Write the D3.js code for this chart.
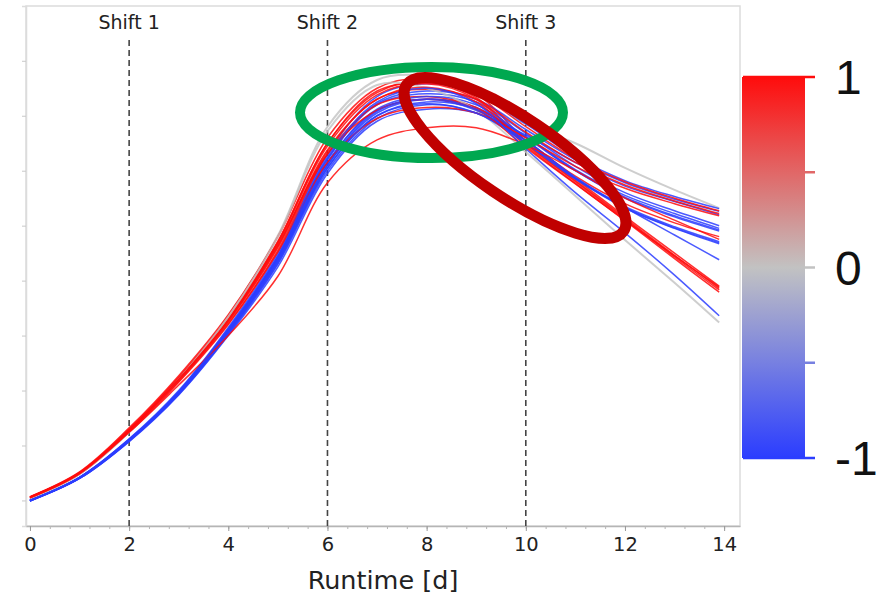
<!DOCTYPE html>
<html>
<head>
<meta charset="utf-8">
<script src="https://cdn.jsdelivr.net/npm/d3@7"></script>
<style>
  html, body { margin: 0; padding: 0; background: #fff; }
  svg { display: block; }
</style>
</head>
<body>
<svg id="chart" width="881" height="598"></svg>
<script>
// ---------- data ----------
const runtime = [0, 1, 2, 3, 4, 5, 6, 7, 8, 9, 10, 11, 12, 13, 13.9];
const xTickValues = [0, 2, 4, 6, 8, 10, 12, 14];
const shiftDays = [2, 6, 10];
const shiftLabels = ["Shift 1", "Shift 2", "Shift 3"];
const colorTicks = [-1, -0.5, 0, 0.5, 1];
const colorTickLabels = ["-1", "0", "1"];
const yTickValues = [0, 1, 2, 3, 4, 5, 6, 7, 8];

// one array per curve
const g1  = [0.03,0.48,1.25,2.20,3.36,4.82,6.80,7.65,7.72,7.42,6.85,6.50,6.05,5.65,5.32];
const b1  = [0.00,0.42,1.12,2.00,3.15,4.50,6.30,7.35,7.58,7.40,6.85,6.25,5.82,5.53,5.31];
const r1  = [0.07,0.52,1.32,2.27,3.38,4.80,6.60,7.50,7.68,7.40,6.55,5.85,5.17,4.50,3.90];
const b2  = [0.00,0.41,1.10,1.97,3.10,4.42,6.20,7.22,7.45,7.30,6.75,6.20,5.78,5.48,5.26];
const r5  = [0.06,0.50,1.28,2.22,3.30,4.70,6.50,7.45,7.60,7.40,6.80,6.22,5.80,5.50,5.27];
const b3  = [0.00,0.42,1.11,1.98,3.12,4.45,6.22,7.20,7.40,7.25,6.68,6.08,5.60,5.27,5.00];
const r2  = [0.06,0.51,1.30,2.24,3.33,4.72,6.50,7.42,7.62,7.33,6.50,5.82,5.14,4.46,3.86];
const b11 = [0.00,0.40,1.07,1.92,3.00,4.25,5.95,6.90,7.12,7.05,6.65,6.15,5.72,5.44,5.20];
const r6  = [0.05,0.49,1.25,2.18,3.25,4.60,6.35,7.30,7.48,7.30,6.70,6.15,5.74,5.45,5.22];
const b12 = [-0.01,0.40,1.08,1.94,3.04,4.32,6.05,7.00,7.25,7.12,6.62,6.02,5.55,5.22,4.95];
const r3  = [0.06,0.50,1.28,2.22,3.30,4.68,6.45,7.38,7.58,7.30,6.48,5.80,5.12,4.43,3.83];
const b4  = [-0.01,0.41,1.09,1.95,3.06,4.36,6.10,7.05,7.30,7.15,6.60,6.00,5.52,5.18,4.92];
const r7  = [0.05,0.48,1.24,2.15,3.20,4.55,6.30,7.20,7.35,7.15,6.55,5.90,5.40,5.05,4.80];
const b5  = [0.00,0.41,1.10,1.96,3.08,4.40,6.15,7.12,7.35,7.20,6.62,6.00,5.50,5.16,4.90];
const g2  = [0.03,0.48,1.24,2.20,3.34,4.80,6.72,7.56,7.50,7.10,6.34,5.54,4.74,3.96,3.24];
const b6  = [0.00,0.42,1.10,1.97,3.10,4.42,6.15,7.10,7.30,7.10,6.55,5.88,5.35,4.98,4.71];
const r4  = [0.05,0.49,1.26,2.20,3.27,4.63,6.38,7.30,7.52,7.25,6.45,5.77,5.09,4.40,3.79];
const b7  = [-0.01,0.40,1.08,1.93,3.02,4.30,6.00,6.95,7.20,7.05,6.50,5.85,5.32,4.95,4.67];
const r10 = [0.05,0.49,1.25,2.17,3.22,4.52,6.15,6.95,7.15,7.05,6.60,6.08,5.68,5.40,5.18];
const b8  = [0.00,0.41,1.09,1.95,3.05,4.35,6.05,7.00,7.22,7.05,6.55,5.87,5.33,4.96,4.69];
const r9  = [0.06,0.50,1.27,2.20,3.28,4.65,6.30,7.10,7.30,7.12,6.42,5.76,5.10,4.45,3.88];
const b9  = [0.00,0.41,1.10,1.96,3.08,4.38,6.10,7.08,7.30,7.12,6.50,5.85,5.33,4.83,4.38];
const r8  = [0.06,0.50,1.24,2.10,3.00,4.08,5.78,6.56,6.78,6.78,6.47,6.00,5.50,5.10,4.75];
const b10 = [0.00,0.42,1.11,1.98,3.12,4.45,6.25,7.25,7.50,7.22,6.40,5.60,4.87,4.10,3.36];

const curveValues = [g1, b1, r1, b2, r5, b3, r2, b11, r6, b12, r3, b4, r7, b5, g2, b6, r4, b7, r10, b8, r9, b9, r8, b10];
const curveScores = [0, -1, 1, -1, 1, -1, 1, -1, 1, -1, 1, -1, 1, -1, 0, -1, 1, -1, 1, -1, 1, -1, 1, -1];

// ---------- drawing ----------
const svg = d3.select("#chart");
const FONT = "'DejaVu Sans', sans-serif";

const x = d3.scaleLinear().domain([-0.08, 14.32]).range([26, 740]);
const y = d3.scaleLinear().domain([-0.465, 8.997]).range([526, 6]);
const color = d3.scaleLinear().domain([-1, 0, 1]).range(["#2b3dff", "#c2c2c2", "#ff0c0c"]);

// frame
svg.append("rect")
  .attr("x", 26).attr("y", 6).attr("width", 714).attr("height", 520)
  .attr("fill", "none").attr("stroke", "#dcdcdc").attr("stroke-width", 1.5);

// y ticks (no labels)
const yAxis = svg.append("g").attr("transform", "translate(26,0)")
  .call(d3.axisLeft(y).tickValues(yTickValues).tickSize(4).tickFormat(""));
yAxis.select(".domain").attr("stroke", "#dcdcdc").attr("stroke-width", 1.5);
yAxis.selectAll(".tick line").attr("stroke", "#c8c8c8");

// x minor ticks
const minor = d3.range(0, 14.001, 0.4);
svg.append("g").attr("transform", "translate(0,526)")
  .call(d3.axisBottom(x).tickValues(minor).tickSize(3).tickFormat("").tickSizeOuter(0))
  .call(g => g.select(".domain").remove())
  .selectAll(".tick line").attr("stroke", "#b5b5b5");

// x major axis
const xAxis = svg.append("g").attr("transform", "translate(0,526)")
  .call(d3.axisBottom(x).tickValues(xTickValues).tickSize(5).tickPadding(6).tickSizeOuter(0));
xAxis.select(".domain").attr("stroke", "#b5b5b5").attr("stroke-width", 1.5);
xAxis.selectAll(".tick line").attr("stroke", "#999");
xAxis.selectAll(".tick text")
  .attr("font-family", FONT).attr("font-size", 19.5).attr("fill", "#222");

svg.append("text")
  .attr("x", 383).attr("y", 589)
  .attr("text-anchor", "middle")
  .attr("font-family", FONT).attr("font-size", 25.5).attr("fill", "#222")
  .text("Runtime [d]");

// shift lines and labels
svg.append("g").selectAll("line").data(shiftDays).join("line")
  .attr("x1", d => x(d)).attr("x2", d => x(d))
  .attr("y1", 40).attr("y2", 526)
  .attr("stroke", "#444").attr("stroke-width", 1.6).attr("stroke-dasharray", "6,4");
svg.append("g").selectAll("text").data(shiftDays).join("text")
  .attr("x", d => x(d)).attr("y", 29)
  .attr("text-anchor", "middle")
  .attr("font-family", FONT).attr("font-size", 19).attr("fill", "#222")
  .text((d, i) => shiftLabels[i]);

// curves
const line = d3.line()
  .x((d, i) => x(runtime[i]))
  .y(d => y(d))
  .curve(d3.curveCatmullRom.alpha(0.5));
svg.append("g").selectAll("path").data(curveValues).join("path")
  .attr("d", line)
  .attr("fill", "none")
  .attr("stroke", (d, i) => color(curveScores[i]))
  .attr("stroke-width", (d, i) => curveScores[i] === 0 ? 2 : 1.5)
  .attr("stroke-opacity", (d, i) => curveScores[i] === 0 ? 0.8 : 0.85);

// highlight ellipses
svg.append("ellipse")
  .attr("cx", 431.5).attr("cy", 112.5).attr("rx", 131.5).attr("ry", 45.5)
  .attr("fill", "none").attr("stroke", "#00a850").attr("stroke-width", 10);
svg.append("ellipse")
  .attr("cx", 0).attr("cy", 0).attr("rx", 131).attr("ry", 40)
  .attr("transform", "translate(515,158) rotate(34)")
  .attr("fill", "none").attr("stroke", "#c00000").attr("stroke-width", 11);

// colorbar
const cbY = d3.scaleLinear().domain([-1, 1]).range([458, 77]);
const defs = svg.append("defs");
const grad = defs.append("linearGradient").attr("id", "cbgrad")
  .attr("x1", 0).attr("y1", 1).attr("x2", 0).attr("y2", 0);
d3.range(-1, 1.001, 0.1).forEach(v => {
  grad.append("stop").attr("offset", (v + 1) / 2).attr("stop-color", color(v));
});
svg.append("rect")
  .attr("x", 742).attr("y", cbY(1)).attr("width", 63).attr("height", cbY(-1) - cbY(1))
  .attr("fill", "url(#cbgrad)");
svg.append("g").selectAll("line").data(colorTicks).join("line")
  .attr("x1", d => Math.abs(d) === 1 ? 743 : 805).attr("x2", 815)
  .attr("y1", d => cbY(d)).attr("y2", d => cbY(d))
  .attr("stroke", d => color(d)).attr("stroke-width", 2.5);
svg.append("g").selectAll("text").data(colorTickLabels).join("text")
  .attr("x", 835).attr("y", d => cbY(+d) + 17)
  .attr("font-family", "'Liberation Sans', Arial, sans-serif")
  .attr("font-size", 48).attr("fill", "#111")
  .text(d => d);
</script>
</body>
</html>
